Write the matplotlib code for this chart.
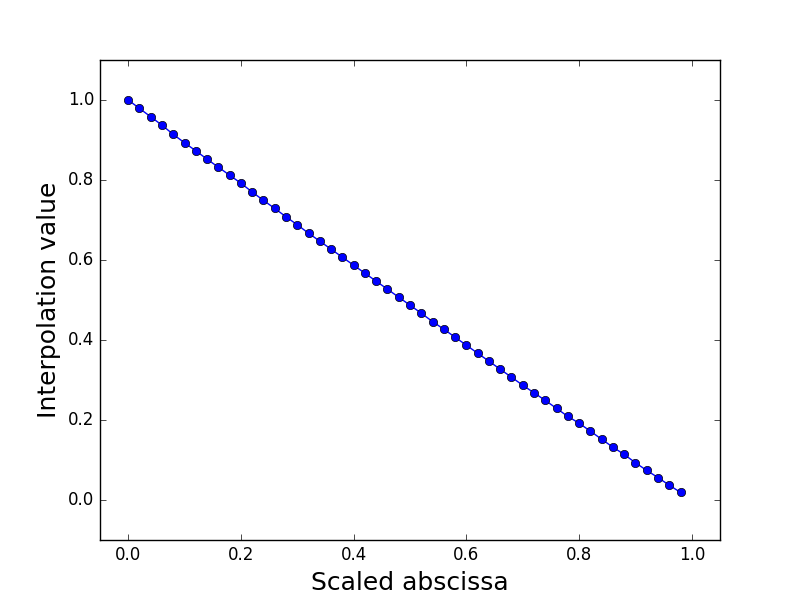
import matplotlib
matplotlib.use("Agg")
import matplotlib.pyplot as plt

# abscisses et valeurs
x_vals = [0.00, 0.02, 0.04, 0.06, 0.08, 0.10, 0.12, 0.14, 0.16, 0.18,
          0.20, 0.22, 0.24, 0.26, 0.28, 0.30, 0.32, 0.34, 0.36, 0.38,
          0.40, 0.42, 0.44, 0.46, 0.48, 0.50, 0.52, 0.54, 0.56, 0.58,
          0.60, 0.62, 0.64, 0.66, 0.68, 0.70, 0.72, 0.74, 0.76, 0.78,
          0.80, 0.82, 0.84, 0.86, 0.88, 0.90, 0.92, 0.94, 0.96, 0.98]
y_vals = [1.000, 0.979, 0.958, 0.937, 0.914, 0.893, 0.873, 0.852, 0.832, 0.812,
          0.792, 0.770, 0.749, 0.729, 0.708, 0.688, 0.667, 0.647, 0.627, 0.607,
          0.587, 0.567, 0.547, 0.527, 0.507, 0.487, 0.467, 0.446, 0.427, 0.407,
          0.387, 0.367, 0.347, 0.327, 0.307, 0.287, 0.268, 0.249, 0.229, 0.209,
          0.192, 0.172, 0.152, 0.132, 0.114, 0.093, 0.074, 0.056, 0.037, 0.019]

plt.style.use("classic")
fig = plt.figure(figsize=(8, 6), dpi=100)
fig.patch.set_facecolor("white")
ax = fig.add_axes([0.125, 0.1, 0.775, 0.8])

ax.plot(x_vals, y_vals, "-o", color="blue", markerfacecolor="blue",
        markeredgecolor="black", markersize=6, linewidth=1)

ax.set_xlim(-0.05, 1.05)
ax.set_ylim(-0.1, 1.1)
ax.set_xticks([0.0, 0.2, 0.4, 0.6, 0.8, 1.0])
ax.set_yticks([0.0, 0.2, 0.4, 0.6, 0.8, 1.0])
ax.set_xlabel("Scaled abscissa", fontsize=18)
ax.set_ylabel("Interpolation value", fontsize=18)

fig.savefig("out.png", dpi=100, facecolor="white")
